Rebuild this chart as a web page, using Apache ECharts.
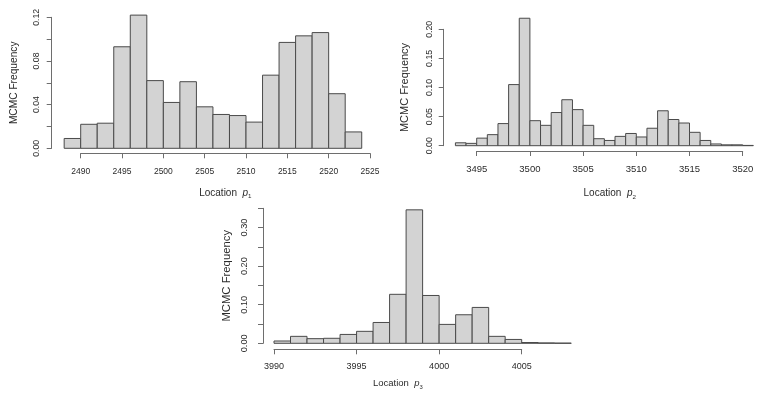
<!DOCTYPE html>
<html>
<head>
<meta charset="utf-8">
<script src="https://cdn.jsdelivr.net/npm/echarts@6/dist/echarts.min.js"></script>
<style>
  html, body { margin: 0; padding: 0; background: #fff; }
  #chart { width: 763px; height: 395px; }
</style>
</head>
<body>
<div id="chart"></div>
<script>
// ---- Panel 1: Location p1 (bin width 2) ----
const p1BinStart = [2488, 2490, 2492, 2494, 2496, 2498, 2500, 2502, 2504, 2506, 2508, 2510, 2512, 2514, 2516, 2518, 2520, 2522];
const p1BinEnd   = [2490, 2492, 2494, 2496, 2498, 2500, 2502, 2504, 2506, 2508, 2510, 2512, 2514, 2516, 2518, 2520, 2522, 2524];
const p1Freq     = [0.009, 0.022, 0.023, 0.093, 0.122, 0.062, 0.042, 0.061, 0.038, 0.031, 0.030, 0.024, 0.067, 0.097, 0.103, 0.106, 0.050, 0.015];
const p1YTickLabels = ['0.00', '0.04', '0.08', '0.12'];

// ---- Panel 2: Location p2 (bin width 1) ----
const p2BinStart = [3493, 3494, 3495, 3496, 3497, 3498, 3499, 3500, 3501, 3502, 3503, 3504, 3505, 3506, 3507, 3508, 3509, 3510, 3511, 3512, 3513, 3514, 3515, 3516, 3517, 3518, 3519, 3520];
const p2BinEnd   = [3494, 3495, 3496, 3497, 3498, 3499, 3500, 3501, 3502, 3503, 3504, 3505, 3506, 3507, 3508, 3509, 3510, 3511, 3512, 3513, 3514, 3515, 3516, 3517, 3518, 3519, 3520, 3521];
const p2Freq     = [0.005, 0.004, 0.013, 0.019, 0.038, 0.105, 0.219, 0.043, 0.035, 0.057, 0.079, 0.062, 0.035, 0.012, 0.009, 0.016, 0.021, 0.015, 0.030, 0.060, 0.045, 0.039, 0.023, 0.009, 0.003, 0.0015, 0.0015, 0.0005];
const p2YTickLabels = ['0.00', '0.05', '0.10', '0.15', '0.20'];

// ---- Panel 3: Location p3 (bin width 1) ----
const p3BinStart = [3990, 3991, 3992, 3993, 3994, 3995, 3996, 3997, 3998, 3999, 4000, 4001, 4002, 4003, 4004, 4005, 4006, 4007];
const p3BinEnd   = [3991, 3992, 3993, 3994, 3995, 3996, 3997, 3998, 3999, 4000, 4001, 4002, 4003, 4004, 4005, 4006, 4007, 4008];
const p3Freq     = [0.006, 0.018, 0.012, 0.013, 0.023, 0.031, 0.054, 0.127, 0.346, 0.124, 0.049, 0.074, 0.093, 0.018, 0.010, 0.002, 0.001, 0.0005];
const p3YTickLabels = ['0.00', '0.10', '0.20', '0.30'];

const xTitleText = 'Location';
const yTitleText = 'MCMC Frequency';

const FONT = '"Liberation Sans", Arial, Helvetica, sans-serif';
const TXT = '#2b2b2b';
const AXC = '#6e6e6e';

const panels = [
  { starts: p1BinStart, ends: p1BinEnd, freq: p1Freq, ylabels: p1YTickLabels, sub: '1',
    xmin: 2490, xmax: 2525, xint: 5, ymin: 0, ymax: 0.12, yint: 0.02,
    left: 80.7, top: 17.3, width: 289.3, height: 131, xoff: 5, yoff: 29,
    xfs: 8.5, yfs: 8.7, xtfs: 10, ytfs: 10.2, xmargin: 14, ymargin: 11, xgap: 33, ygap: 33 },
  { starts: p2BinStart, ends: p2BinEnd, freq: p2Freq, ylabels: p2YTickLabels, sub: '2',
    xmin: 3495, xmax: 3520, xint: 5, ymin: 0, ymax: 0.20, yint: 0.05,
    left: 476.7, top: 29.3, width: 266, height: 116.4, xoff: 5.3, yoff: 33,
    xfs: 9.5, yfs: 8.8, xtfs: 10, ytfs: 11, xmargin: 13, ymargin: 10, xgap: 36, ygap: 33 },
  { starts: p3BinStart, ends: p3BinEnd, freq: p3Freq, ylabels: p3YTickLabels, sub: '3',
    xmin: 3990, xmax: 4005, xint: 5, ymin: 0, ymax: 0.35, yint: 0.05,
    left: 274, top: 208.3, width: 247.7, height: 135, xoff: 6, yoff: 11,
    xfs: 9, yfs: 9.2, xtfs: 9.5, ytfs: 11.3, xmargin: 13, ymargin: 14, xgap: 28, ygap: 31 }
];

const grid = [], xAxis = [], yAxis = [], series = [];
panels.forEach((p, i) => {
  grid.push({ left: p.left, top: p.top, width: p.width, height: p.height,
              containLabel: false, outerBoundsMode: 'none' });
  xAxis.push({
    type: 'value', gridIndex: i, min: p.xmin, max: p.xmax, interval: p.xint,
    offset: p.xoff, splitLine: { show: false },
    axisLine: { show: true, onZero: false, lineStyle: { color: AXC, width: 1 } },
    axisTick: { show: true, inside: false, length: 5, lineStyle: { color: AXC, width: 1 } },
    axisLabel: { color: TXT, fontSize: p.xfs, fontFamily: FONT, margin: p.xmargin,
                 formatter: v => String(v), showMinLabel: true, showMaxLabel: true, hideOverlap: false },
    name: xTitleText + '  {i|p}{s|' + p.sub + '}',
    nameLocation: 'middle', nameGap: p.xgap,
    nameTextStyle: { color: TXT, fontSize: p.xtfs, fontFamily: FONT,
      rich: {
        i: { fontStyle: 'italic', fontSize: p.xtfs, fontFamily: FONT, color: TXT },
        s: { fontSize: p.xtfs * 0.62, fontFamily: FONT, color: TXT, verticalAlign: 'bottom', padding: [7, 0, 0, 0] }
      } }
  });
  yAxis.push({
    type: 'value', gridIndex: i, min: p.ymin, max: p.ymax, interval: p.yint,
    offset: p.yoff, splitLine: { show: false },
    axisLine: { show: true, onZero: false, lineStyle: { color: AXC, width: 1 } },
    axisTick: { show: true, inside: false, length: 5, lineStyle: { color: AXC, width: 1 } },
    axisLabel: { color: TXT, fontSize: p.yfs, fontFamily: FONT, rotate: 90, margin: p.ymargin,
                 showMinLabel: true, showMaxLabel: true, hideOverlap: false,
                 formatter: v => { const s = v.toFixed(2); return p.ylabels.includes(s) ? s : ''; } },
    name: yTitleText, nameLocation: 'middle', nameGap: p.ygap, nameRotate: 90,
    nameTextStyle: { color: TXT, fontSize: p.ytfs, fontFamily: FONT }
  });
  series.push({
    type: 'custom', xAxisIndex: i, yAxisIndex: i, clip: false, silent: true,
    data: p.freq.map((f, k) => [p.starts[k], p.ends[k], f]),
    encode: { x: [0, 1], y: 2 },
    renderItem: (params, api) => {
      const a = api.coord([api.value(0), 0]);
      const b = api.coord([api.value(1), api.value(2)]);
      return { type: 'rect',
        shape: { x: a[0], y: b[1], width: b[0] - a[0], height: a[1] - b[1] },
        style: { fill: '#d3d3d3', stroke: '#4a4a4a', lineWidth: 1 } };
    }
  });
});

const chart = echarts.init(document.getElementById('chart'), null, { renderer: 'canvas' });
chart.setOption({ animation: false, backgroundColor: '#ffffff', grid, xAxis, yAxis, series });
</script>
</body>
</html>
